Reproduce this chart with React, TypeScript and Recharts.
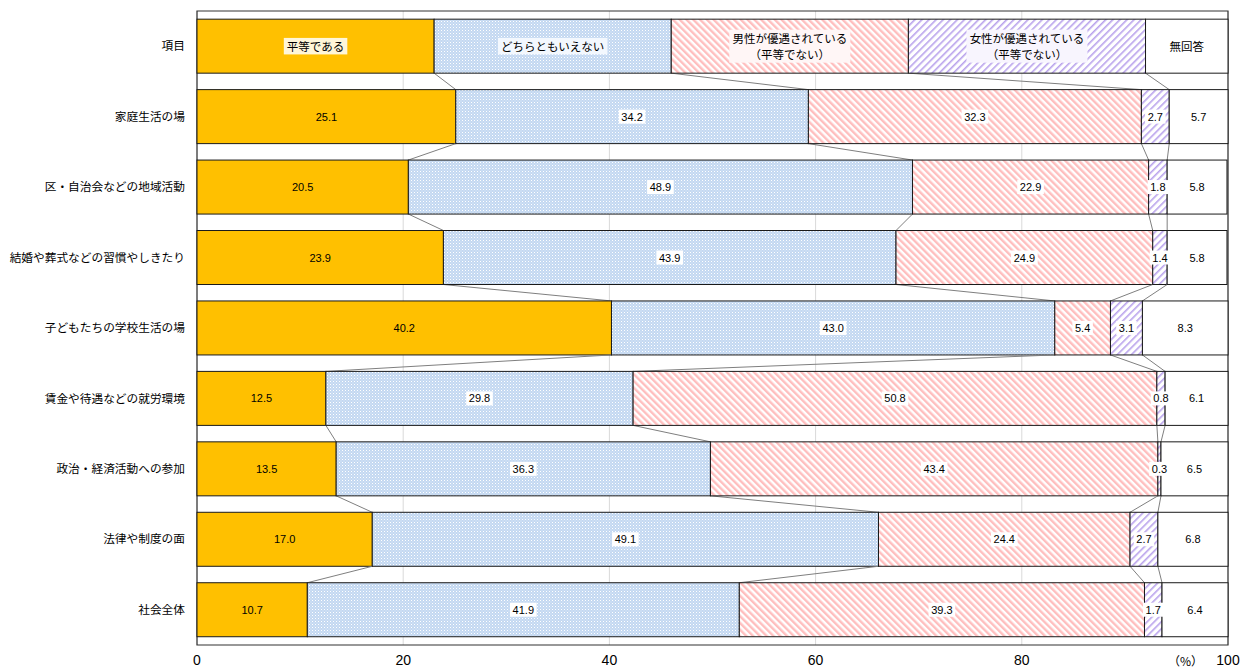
import React from 'react';
import { BarChart, Bar, XAxis, YAxis, CartesianGrid, ReferenceArea } from 'recharts';

const categories = [
  '項目',
  '家庭生活の場',
  '区・自治会などの地域活動',
  '結婚や葬式などの習慣やしきたり',
  '子どもたちの学校生活の場',
  '賃金や待遇などの就労環境',
  '政治・経済活動への参加',
  '法律や制度の面',
  '社会全体',
];
// first entry of each series is the header ("項目") row that acts as the legend
const equal = [23, 25.1, 20.5, 23.9, 40.2, 12.5, 13.5, 17.0, 10.7];
const neither = [23, 34.2, 48.9, 43.9, 43.0, 29.8, 36.3, 49.1, 41.9];
const menFavored = [23, 32.3, 22.9, 24.9, 5.4, 50.8, 43.4, 24.4, 39.3];
const womenFavored = [23, 2.7, 1.8, 1.4, 3.1, 0.8, 0.3, 2.7, 1.7];
const noAnswer = [8, 5.7, 5.8, 5.8, 8.3, 6.1, 6.5, 6.8, 6.4];
const seriesKeys = ['equal', 'neither', 'menFavored', 'womenFavored', 'noAnswer'];
const seriesNames = [
  '平等である',
  'どちらともいえない',
  '男性が優遇されている\n（平等でない）',
  '女性が優遇されている\n（平等でない）',
  '無回答',
];
const xTicks = [0, 20, 40, 60, 80, 100];

const seriesList = [equal, neither, menFavored, womenFavored, noAnswer];
const data = categories.map((name, i) => ({
  name,
  equal: equal[i],
  neither: neither[i],
  menFavored: menFavored[i],
  womenFavored: womenFavored[i],
  noAnswer: noAnswer[i],
}));

const W = 1245;
const H = 670;
const MT = 11;
const MR = 17;
const XH = 25;
const YW = 197;
const BAND = (H - MT - XH) / categories.length;

const FONT = "'Liberation Sans','Noto Sans CJK JP',sans-serif";
const JP = "'Noto Sans CJK JP',sans-serif";

const fills = ['#FFC000', 'url(#pBlue)', 'url(#pPink)', 'url(#pPurple)', '#FFFFFF'];
const headerBg = ['#FFF6D8', '#F3F8FE', '#FFF6F6', '#F8F5FE', 'none'];

function textWidth(str: string, fs: number) {
  let w = 0;
  for (const ch of str) w += ch.charCodeAt(0) > 255 ? fs : fs * 0.56;
  return w;
}

function rowLabels(i: number, x0: number, k: number, y: number, height: number) {
  const els: any[] = [];
  const values = seriesList.map((a) => a[i]);
  let cum = 0;
  const cy = y + height / 2;
  values.forEach((value, s) => {
    const cx = x0 + (cum + value / 2) * k;
    cum += value;
    if (i === 0) {
      const lines = seriesNames[s].split('\n');
      const fs = 11.5;
      const lh = 16.5;
      const maxW = Math.max(...lines.map((l) => textWidth(l, fs)));
      const totalH = lines.length * lh;
      if (headerBg[s] !== 'none') {
        els.push(
          <rect key={'hb' + s} x={cx - maxW / 2 - 3} y={cy - totalH / 2} width={maxW + 6} height={totalH} fill={headerBg[s]} />
        );
      }
      lines.forEach((l, j) => {
        els.push(
          <text
            key={'ht' + s + '_' + j}
            x={cx}
            y={cy - totalH / 2 + lh * (j + 0.5)}
            textAnchor="middle"
            dominantBaseline="central"
            fontSize={fs}
            fontFamily={JP}
            fill="#000"
          >
            {l}
          </text>
        );
      });
    } else {
      const label = value.toFixed(1);
      const fs = 11;
      const tw = textWidth(label, fs);
      if (s >= 1 && s <= 3) {
        els.push(<rect key={'vb' + s} x={cx - tw / 2 - 1} y={cy - 7} width={tw + 2} height={14} fill="#FFFFFF" />);
      }
      els.push(
        <text
          key={'vt' + s}
          x={cx}
          y={cy}
          textAnchor="middle"
          dominantBaseline="central"
          fontSize={fs}
          fontFamily={FONT}
          fill="#000"
        >
          {label}
        </text>
      );
    }
  });
  return els;
}

function makeShape(s: number) {
  return function SegmentShape(props: any) {
    const { x, y, width, height } = props;
    let i = props.index;
    if (props.payload && props.payload.name) i = categories.indexOf(props.payload.name);
    const values = seriesList.map((a) => a[i]);
    const value = values[s];
    const cumBefore = values.slice(0, s).reduce((a, b) => a + b, 0);
    const k = width / value;
    const x0 = x - cumBefore * k;
    const els: any[] = [];
    els.push(
      <rect key="r" x={x} y={y} width={width} height={height} fill={fills[s]} stroke="#1a1a1a" strokeWidth={1} />
    );
    if (s < 4 && i < categories.length - 1) {
      const cumEnd = cumBefore + value;
      const nextCum = seriesList.slice(0, s + 1).reduce((a, arr) => a + arr[i + 1], 0);
      els.push(
        <line
          key="c"
          x1={x0 + cumEnd * k}
          y1={y + height}
          x2={x0 + nextCum * k}
          y2={y + BAND}
          stroke="#7f7f7f"
          strokeWidth={1}
        />
      );
    }
    if (s === 4) {
      els.push(...rowLabels(i, x0, k, y, height));
    }
    return <g>{els}</g>;
  };
}

const shapes = seriesKeys.map((_, s) => makeShape(s));

export default function App() {
  return (
    <div style={{ position: 'absolute', left: 0, top: 0, width: W, height: H, background: '#fff', fontFamily: FONT }}>
      <svg width={0} height={0} style={{ position: 'absolute' }}>
        <defs>
          <pattern id="pBlue" patternUnits="userSpaceOnUse" width={3} height={3}>
            <rect x={0} y={0} width={3} height={3} fill="#C3D8F1" />
            <rect x={0} y={0} width={1} height={1} fill="#FFFFFF" />
            <rect x={1.5} y={1.5} width={1} height={1} fill="#E6EFFA" />
          </pattern>
          <pattern id="pPink" patternUnits="userSpaceOnUse" width={4.8} height={4.8} patternTransform="rotate(-45)">
            <rect x={0} y={0} width={4.8} height={4.8} fill="#FFFFFF" />
            <rect x={0} y={0} width={2.4} height={4.8} fill="#FFBEBE" />
          </pattern>
          <pattern id="pPurple" patternUnits="userSpaceOnUse" width={5} height={5} patternTransform="rotate(45)">
            <rect x={0} y={0} width={5} height={5} fill="#FFFFFF" />
            <rect x={0} y={0} width={1.6} height={5} fill="#B9A2EC" />
          </pattern>
        </defs>
      </svg>
      <BarChart
        width={W}
        height={H}
        data={data}
        layout="vertical"
        margin={{ top: MT, right: MR, left: 0, bottom: 0 }}
        barCategoryGap="11.6%"
      >
        <CartesianGrid horizontal={false} stroke="#d9d9d9" />
        <XAxis
          type="number"
          domain={[0, 100]}
          ticks={xTicks}
          tickLine={false}
          axisLine={false}
          height={XH}
          tickSize={6}
          tickMargin={4}
          tick={{ fontSize: 14, fill: '#000', fontFamily: FONT }}
          interval={0}
        />
        <YAxis
          type="category"
          dataKey="name"
          width={YW}
          tickLine={false}
          axisLine={false}
          tickSize={0}
          tickMargin={12}
          interval={0}
          tick={{ fontSize: 11.7, fill: '#000', fontFamily: JP }}
        />
        {seriesKeys.map((key, s) => (
          <Bar key={key} dataKey={key} stackId="a" isAnimationActive={false} shape={shapes[s]} />
        ))}
        <ReferenceArea x1={0} x2={100} fill="none" stroke="#333" strokeWidth={1.2} ifOverflow="visible" />
      </BarChart>
      <div
        style={{
          position: 'absolute',
          left: 1168,
          top: 653,
          fontSize: 12,
          fontFamily: JP,
          color: '#000',
          whiteSpace: 'nowrap',
          lineHeight: '16px',
        }}
      >
        （%）
      </div>
    </div>
  );
}
